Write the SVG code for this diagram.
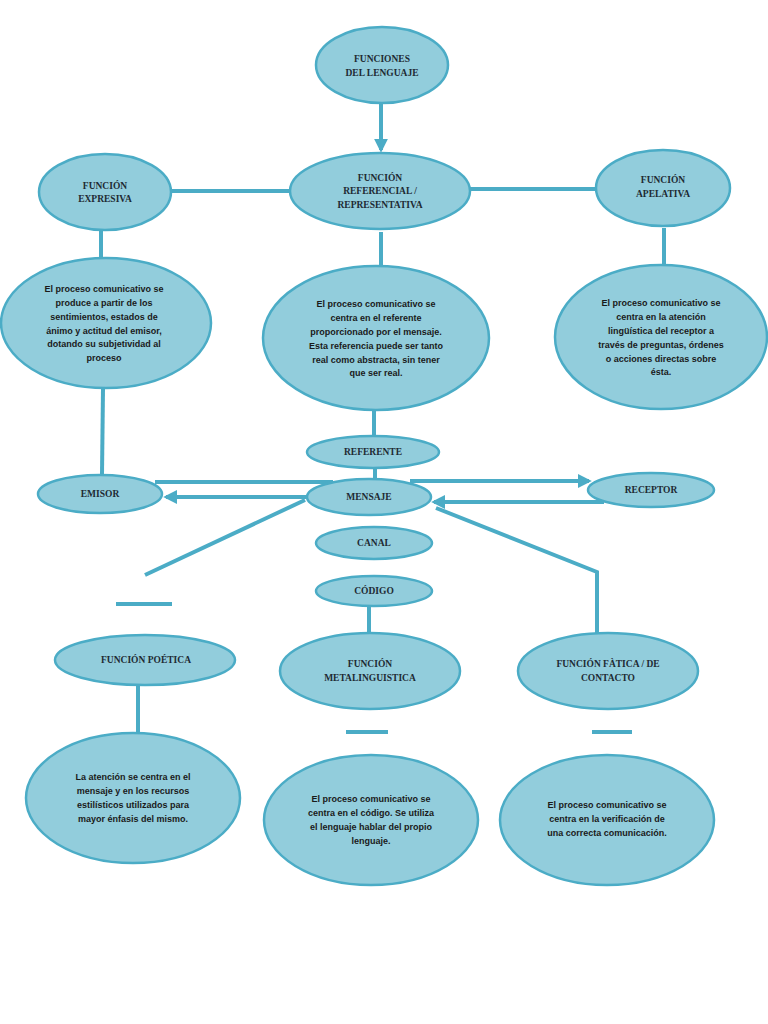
<svg xmlns="http://www.w3.org/2000/svg" width="768" height="1024" viewBox="0 0 768 1024">
<style>
.n{fill:#92cddc;stroke:#4bacc6;stroke-width:2.5}
.c{stroke:#4bacc6;stroke-width:4;fill:none}
.t{font-family:"Liberation Serif",serif;font-weight:bold;font-size:9.5px;fill:#1e2a33;text-anchor:middle}
.b{font-family:"Liberation Sans",Arial,sans-serif;font-weight:bold;font-size:9px;fill:#1a1a1a;text-anchor:middle}
</style>
<defs>
<marker id="ah" markerUnits="userSpaceOnUse" markerWidth="14" markerHeight="14" viewBox="0 0 10 10" refX="8" refY="5" orient="auto">
<path d="M0,0 L10,5 L0,10 Z" fill="#4bacc6"/>
</marker>
</defs>
<rect width="768" height="1024" fill="#ffffff"/>
<g id="connectors">
<line class="c" x1="381" y1="104" x2="381" y2="150" marker-end="url(#ah)"/>
<line class="c" x1="172" y1="191" x2="290" y2="191"/>
<line class="c" x1="470" y1="189" x2="596" y2="189"/>
<line class="c" x1="101" y1="230" x2="101" y2="258"/>
<line class="c" x1="381" y1="232" x2="381" y2="268"/>
<line class="c" x1="664" y1="228" x2="664" y2="266"/>
<line class="c" x1="103" y1="389" x2="102" y2="474"/>
<line class="c" x1="374" y1="411" x2="374" y2="436"/>
<line class="c" x1="375" y1="469" x2="375" y2="480"/>
<line class="c" x1="155" y1="482" x2="333" y2="482"/>
<line class="c" x1="310" y1="497" x2="166" y2="497" marker-end="url(#ah)"/>
<line class="c" x1="410" y1="481" x2="589" y2="481" marker-end="url(#ah)"/>
<line class="c" x1="604" y1="502" x2="434" y2="502" marker-end="url(#ah)"/>
<line class="c" x1="305" y1="500" x2="145" y2="575"/>
<polyline class="c" points="597,634 597,572 436,508"/>
<line class="c" x1="369" y1="606" x2="369" y2="634"/>
<line class="c" x1="138" y1="686" x2="138" y2="733"/>
<line class="c" x1="116" y1="604" x2="172" y2="604"/>
<line class="c" x1="346" y1="732" x2="388" y2="732"/>
<line class="c" x1="592" y1="732" x2="632" y2="732"/>
</g>
<g id="funciones">
<ellipse class="n" cx="382" cy="65" rx="66" ry="38"/>
<text class="t" x="382" y="62">FUNCIONES</text>
<text class="t" x="382" y="76">DEL LENGUAJE</text>
</g>
<g id="referencial">
<ellipse class="n" cx="380" cy="191" rx="90" ry="38"/>
<text class="t" x="380" y="181">FUNCIÓN</text>
<text class="t" x="380" y="194">REFERENCIAL /</text>
<text class="t" x="380" y="208">REPRESENTATIVA</text>
</g>
<g id="expresiva">
<ellipse class="n" cx="105" cy="192" rx="66" ry="38"/>
<text class="t" x="105" y="189">FUNCIÓN</text>
<text class="t" x="105" y="202">EXPRESIVA</text>
</g>
<g id="apelativa">
<ellipse class="n" cx="663" cy="188" rx="67" ry="38"/>
<text class="t" x="663" y="183">FUNCIÓN</text>
<text class="t" x="663" y="197">APELATIVA</text>
</g>
<g id="expresiva-desc">
<ellipse class="n" cx="106" cy="323" rx="105" ry="65"/>
<text class="b" x="104" y="292">El proceso comunicativo se</text>
<text class="b" x="104" y="306">produce a partir de los</text>
<text class="b" x="104" y="320">sentimientos, estados de</text>
<text class="b" x="104" y="334">ánimo y actitud del emisor,</text>
<text class="b" x="104" y="347">dotando su subjetividad al</text>
<text class="b" x="104" y="361">proceso</text>
</g>
<g id="referencial-desc">
<ellipse class="n" cx="376" cy="338" rx="113" ry="72"/>
<text class="b" x="376" y="307">El proceso comunicativo se</text>
<text class="b" x="376" y="321">centra en el referente</text>
<text class="b" x="376" y="335">proporcionado por el mensaje.</text>
<text class="b" x="376" y="349">Esta referencia puede ser tanto</text>
<text class="b" x="376" y="363">real como abstracta, sin tener</text>
<text class="b" x="376" y="376">que ser real.</text>
</g>
<g id="apelativa-desc">
<ellipse class="n" cx="661" cy="337" rx="106" ry="72"/>
<text class="b" x="661" y="306">El proceso comunicativo se</text>
<text class="b" x="661" y="320">centra en la atención</text>
<text class="b" x="661" y="334">lingüística del receptor a</text>
<text class="b" x="661" y="348">través de preguntas, órdenes</text>
<text class="b" x="661" y="362">o acciones directas sobre</text>
<text class="b" x="661" y="375">ésta.</text>
</g>
<g id="referente">
<ellipse class="n" cx="373" cy="452" rx="66" ry="16"/>
<text class="t" x="373" y="455">REFERENTE</text>
</g>
<g id="emisor">
<ellipse class="n" cx="100" cy="494" rx="62" ry="19"/>
<text class="t" x="100" y="497">EMISOR</text>
</g>
<g id="mensaje">
<ellipse class="n" cx="369" cy="497" rx="62" ry="18"/>
<text class="t" x="369" y="500">MENSAJE</text>
</g>
<g id="receptor">
<ellipse class="n" cx="651" cy="490" rx="63" ry="17"/>
<text class="t" x="651" y="493">RECEPTOR</text>
</g>
<g id="canal">
<ellipse class="n" cx="374" cy="543" rx="58" ry="16"/>
<text class="t" x="374" y="546">CANAL</text>
</g>
<g id="codigo">
<ellipse class="n" cx="374" cy="591" rx="58" ry="15"/>
<text class="t" x="374" y="594">CÓDIGO</text>
</g>
<g id="poetica">
<ellipse class="n" cx="145" cy="660" rx="90" ry="25"/>
<text class="t" x="146" y="663">FUNCIÓN POÉTICA</text>
</g>
<g id="metalinguistica">
<ellipse class="n" cx="370" cy="671" rx="90" ry="38"/>
<text class="t" x="370" y="667">FUNCIÓN</text>
<text class="t" x="370" y="681">METALINGUISTICA</text>
</g>
<g id="fatica">
<ellipse class="n" cx="608" cy="671" rx="90" ry="38"/>
<text class="t" x="608" y="667">FUNCIÓN FÀTICA / DE</text>
<text class="t" x="608" y="681">CONTACTO</text>
</g>
<g id="poetica-desc">
<ellipse class="n" cx="133" cy="798" rx="107" ry="65"/>
<text class="b" x="133" y="780">La atención se centra en el</text>
<text class="b" x="133" y="794">mensaje y en los recursos</text>
<text class="b" x="133" y="808">estilísticos utilizados para</text>
<text class="b" x="133" y="822">mayor énfasis del mismo.</text>
</g>
<g id="metalinguistica-desc">
<ellipse class="n" cx="371" cy="820" rx="107" ry="65"/>
<text class="b" x="371" y="802">El proceso comunicativo se</text>
<text class="b" x="371" y="816">centra en el código. Se utiliza</text>
<text class="b" x="371" y="830">el lenguaje hablar del propio</text>
<text class="b" x="371" y="844">lenguaje.</text>
</g>
<g id="fatica-desc">
<ellipse class="n" cx="607" cy="820" rx="107" ry="65"/>
<text class="b" x="607" y="808">El proceso comunicativo se</text>
<text class="b" x="607" y="822">centra en la verificación de</text>
<text class="b" x="607" y="836">una correcta comunicación.</text>
</g>
</svg>
